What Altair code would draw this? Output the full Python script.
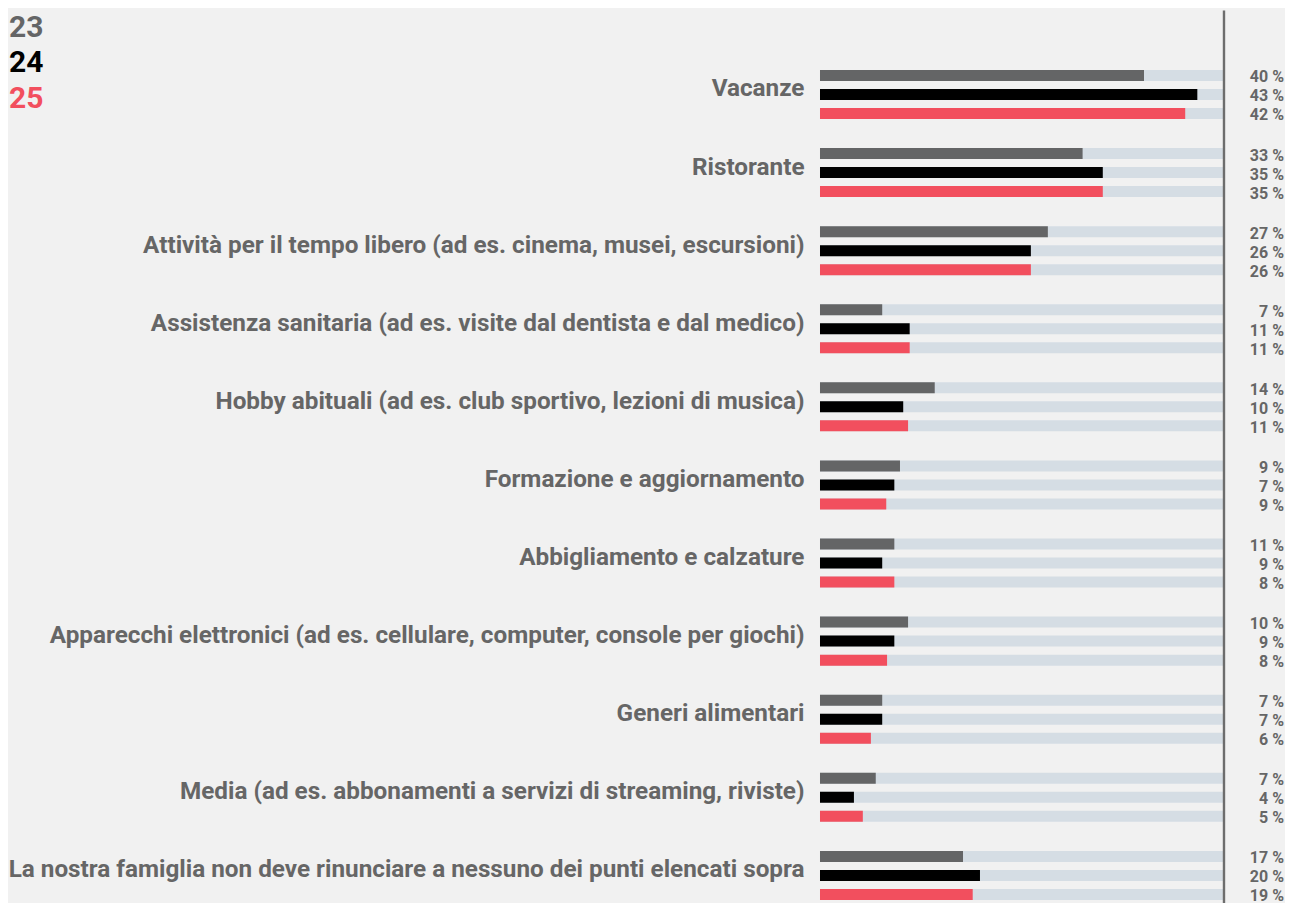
import altair as alt
import pandas as pd

categories = [
    "Vacanze",
    "Ristorante",
    "Attività per il tempo libero (ad es. cinema, musei, escursioni)",
    "Assistenza sanitaria (ad es. visite dal dentista e dal medico)",
    "Hobby abituali (ad es. club sportivo, lezioni di musica)",
    "Formazione e aggiornamento",
    "Abbigliamento e calzature",
    "Apparecchi elettronici (ad es. cellulare, computer, console per giochi)",
    "Generi alimentari",
    "Media (ad es. abbonamenti a servizi di streaming, riviste)",
    "La nostra famiglia non deve rinunciare a nessuno dei punti elencati sopra",
]
years = ["23", "24", "25"]
year_colors = ["#646566", "#000000", "#f24f5e"]

# bar lengths as drawn (percent)
bar_23 = [40.1, 32.5, 28.2, 7.7, 14.2, 9.9, 9.2, 10.9, 7.7, 6.9, 17.7]
bar_24 = [46.7, 35.0, 26.1, 11.1, 10.3, 9.2, 7.7, 9.2, 7.7, 4.2, 19.8]
bar_25 = [45.2, 35.0, 26.1, 11.1, 10.9, 8.2, 9.2, 8.3, 6.3, 5.3, 18.9]
# printed labels (percent)
label_23 = [40, 33, 27, 7, 14, 9, 11, 10, 7, 7, 17]
label_24 = [43, 35, 26, 11, 10, 7, 9, 9, 7, 4, 20]
label_25 = [42, 35, 26, 11, 11, 9, 8, 8, 6, 5, 19]
scale_max = 50

rows = []
for yr, bars, labels in zip(years, [bar_23, bar_24, bar_25], [label_23, label_24, label_25]):
    for c, b, l in zip(categories, bars, labels):
        rows.append({"category": c, "year": yr, "value": b, "label": f"{l} %"})
df = pd.DataFrame(rows)

GRAY_TEXT = "#666666"
FONT = "Roboto"

y_enc = alt.Y("category:N", sort=categories,
              scale=alt.Scale(domain=categories, paddingInner=0, paddingOuter=0),
              axis=alt.Axis(title=None, domain=False, ticks=False, grid=False,
                            labelPadding=16, labelFontSize=24.3, labelFont=FONT,
                            labelFontWeight="bold", labelColor=GRAY_TEXT,
                            labelLimit=900, labelOffset=-5))
yoff = alt.YOffset("year:N", sort=years,
                   scale=alt.Scale(domain=years, paddingInner=0.421, paddingOuter=0.765))
x_scale = alt.Scale(domain=[0, scale_max], nice=False, zero=True)
color_enc = alt.Color("year:N", scale=alt.Scale(domain=years, range=year_colors), legend=None)

base = alt.Chart(df)

track = base.mark_bar(color="#d5dde4").encode(
    x=alt.XDatum(scale_max, type="quantitative", scale=x_scale, axis=None),
    y=y_enc,
    yOffset=yoff,
)

bars = base.mark_bar().encode(
    x=alt.X("value:Q", scale=x_scale, axis=None),
    y=y_enc,
    yOffset=yoff,
    color=color_enc,
)

labels = base.mark_text(align="right", baseline="middle", font=FONT, fontWeight="bold",
                        fontSize=16, color=GRAY_TEXT, dy=2).encode(
    x=alt.value(464),
    y=y_enc,
    yOffset=yoff,
    text="label:N",
)

rule = alt.Chart(alt.Data(values=[{}])).mark_rule(color="#6d6d6d", strokeWidth=2.4).encode(
    x=alt.XDatum(scale_max, type="quantitative", scale=x_scale, axis=None),
    y=alt.value(-45),
    y2=alt.value(870),
)

main = alt.layer(track, bars, labels, rule)

legend = alt.Chart(pd.DataFrame({"year": years})).mark_text(
    align="left", baseline="alphabetic", font=FONT, fontWeight="bold", fontSize=30
).encode(
    x=alt.value(-811),
    y=alt.Y("year:N", sort=years,
            scale=alt.Scale(type="point", domain=years, range=[-18.5, 52.5], padding=0),
            axis=None),
    color=color_enc,
    text="year:N",
)

chart = alt.layer(main, legend).resolve_scale(y="independent").properties(
    width=404,
    height=859,
    padding={"left": 812, "top": 47.45, "right": 61, "bottom": 0},
    autosize=alt.AutoSizeParams(type="none"),
    background="#f1f1f1",
).configure_view(stroke=None)

chart.save("out.html", embed_options={"renderer": "svg", "actions": False})
